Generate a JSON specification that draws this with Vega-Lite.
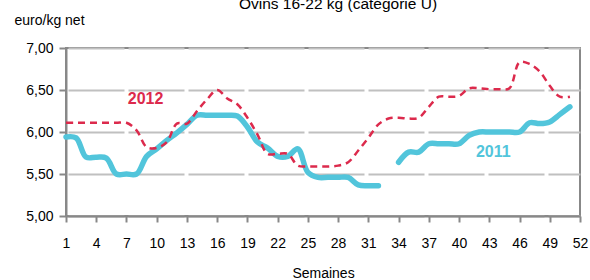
{
  "$schema": "https://vega.github.io/schema/vega-lite/v6.json",
  "width": 514,
  "height": 168,
  "autosize": {"type": "none"},
  "padding": {"left": 66, "top": 48, "right": 10, "bottom": 64},
  "background": "white",
  "title": {"text": "Ovins 16-22 kg (catégorie U)", "frame": "group", "anchor": "middle", "dx": 15, "dy": 18, "baseline": "alphabetic", "offset": 7, "fontSize": 15.5, "fontWeight": "normal", "font": "Liberation Sans", "color": "#000"},
  "config": {
    "view": {"stroke": "#888888", "strokeWidth": 2},
    "font": "Liberation Sans",
    "axis": {"labelFont": "Liberation Sans", "titleFont": "Liberation Sans", "labelColor": "#000", "titleColor": "#000", "titleFontWeight": "normal"}
  },
  "datasets": {
    "prices": [
      {"week": 1, "year": "2011", "seg": "a", "price": 5.94},
      {"week": 2, "year": "2011", "seg": "a", "price": 5.93},
      {"week": 3, "year": "2011", "seg": "a", "price": 5.70},
      {"week": 4, "year": "2011", "seg": "a", "price": 5.70},
      {"week": 5, "year": "2011", "seg": "a", "price": 5.69},
      {"week": 6, "year": "2011", "seg": "a", "price": 5.50},
      {"week": 7, "year": "2011", "seg": "a", "price": 5.50},
      {"week": 8, "year": "2011", "seg": "a", "price": 5.50},
      {"week": 9, "year": "2011", "seg": "a", "price": 5.71},
      {"week": 10, "year": "2011", "seg": "a", "price": 5.80},
      {"week": 11, "year": "2011", "seg": "a", "price": 5.90},
      {"week": 12, "year": "2011", "seg": "a", "price": 5.99},
      {"week": 13, "year": "2011", "seg": "a", "price": 6.09},
      {"week": 14, "year": "2011", "seg": "a", "price": 6.20},
      {"week": 15, "year": "2011", "seg": "a", "price": 6.20},
      {"week": 16, "year": "2011", "seg": "a", "price": 6.20},
      {"week": 17, "year": "2011", "seg": "a", "price": 6.20},
      {"week": 18, "year": "2011", "seg": "a", "price": 6.19},
      {"week": 19, "year": "2011", "seg": "a", "price": 6.06},
      {"week": 20, "year": "2011", "seg": "a", "price": 5.88},
      {"week": 21, "year": "2011", "seg": "a", "price": 5.81},
      {"week": 22, "year": "2011", "seg": "a", "price": 5.71},
      {"week": 23, "year": "2011", "seg": "a", "price": 5.71},
      {"week": 24, "year": "2011", "seg": "a", "price": 5.80},
      {"week": 25, "year": "2011", "seg": "a", "price": 5.52},
      {"week": 26, "year": "2011", "seg": "a", "price": 5.46},
      {"week": 27, "year": "2011", "seg": "a", "price": 5.46},
      {"week": 28, "year": "2011", "seg": "a", "price": 5.46},
      {"week": 29, "year": "2011", "seg": "a", "price": 5.46},
      {"week": 30, "year": "2011", "seg": "a", "price": 5.37},
      {"week": 31, "year": "2011", "seg": "a", "price": 5.36},
      {"week": 32, "year": "2011", "seg": "a", "price": 5.36},
      {"week": 34, "year": "2011", "seg": "b", "price": 5.64},
      {"week": 35, "year": "2011", "seg": "b", "price": 5.76},
      {"week": 36, "year": "2011", "seg": "b", "price": 5.76},
      {"week": 37, "year": "2011", "seg": "b", "price": 5.86},
      {"week": 38, "year": "2011", "seg": "b", "price": 5.86},
      {"week": 39, "year": "2011", "seg": "b", "price": 5.86},
      {"week": 40, "year": "2011", "seg": "b", "price": 5.86},
      {"week": 41, "year": "2011", "seg": "b", "price": 5.96},
      {"week": 42, "year": "2011", "seg": "b", "price": 6.00},
      {"week": 43, "year": "2011", "seg": "b", "price": 6.00},
      {"week": 44, "year": "2011", "seg": "b", "price": 6.00},
      {"week": 45, "year": "2011", "seg": "b", "price": 6.00},
      {"week": 46, "year": "2011", "seg": "b", "price": 6.00},
      {"week": 47, "year": "2011", "seg": "b", "price": 6.11},
      {"week": 48, "year": "2011", "seg": "b", "price": 6.10},
      {"week": 49, "year": "2011", "seg": "b", "price": 6.12},
      {"week": 50, "year": "2011", "seg": "b", "price": 6.21},
      {"week": 51, "year": "2011", "seg": "b", "price": 6.30},
      {"week": 1, "year": "2012", "seg": "c", "price": 6.11},
      {"week": 2, "year": "2012", "seg": "c", "price": 6.11},
      {"week": 3, "year": "2012", "seg": "c", "price": 6.11},
      {"week": 4, "year": "2012", "seg": "c", "price": 6.11},
      {"week": 5, "year": "2012", "seg": "c", "price": 6.11},
      {"week": 6, "year": "2012", "seg": "c", "price": 6.11},
      {"week": 7, "year": "2012", "seg": "c", "price": 6.11},
      {"week": 8, "year": "2012", "seg": "c", "price": 6.02},
      {"week": 9, "year": "2012", "seg": "c", "price": 5.82},
      {"week": 10, "year": "2012", "seg": "c", "price": 5.81},
      {"week": 11, "year": "2012", "seg": "c", "price": 5.88},
      {"week": 12, "year": "2012", "seg": "c", "price": 6.10},
      {"week": 13, "year": "2012", "seg": "c", "price": 6.10},
      {"week": 14, "year": "2012", "seg": "c", "price": 6.25},
      {"week": 15, "year": "2012", "seg": "c", "price": 6.39},
      {"week": 16, "year": "2012", "seg": "c", "price": 6.50},
      {"week": 17, "year": "2012", "seg": "c", "price": 6.40},
      {"week": 18, "year": "2012", "seg": "c", "price": 6.33},
      {"week": 19, "year": "2012", "seg": "c", "price": 6.17},
      {"week": 20, "year": "2012", "seg": "c", "price": 5.97},
      {"week": 21, "year": "2012", "seg": "c", "price": 5.74},
      {"week": 22, "year": "2012", "seg": "c", "price": 5.74},
      {"week": 23, "year": "2012", "seg": "c", "price": 5.74},
      {"week": 24, "year": "2012", "seg": "c", "price": 5.60},
      {"week": 25, "year": "2012", "seg": "c", "price": 5.59},
      {"week": 26, "year": "2012", "seg": "c", "price": 5.59},
      {"week": 27, "year": "2012", "seg": "c", "price": 5.59},
      {"week": 28, "year": "2012", "seg": "c", "price": 5.60},
      {"week": 29, "year": "2012", "seg": "c", "price": 5.64},
      {"week": 30, "year": "2012", "seg": "c", "price": 5.78},
      {"week": 31, "year": "2012", "seg": "c", "price": 5.93},
      {"week": 32, "year": "2012", "seg": "c", "price": 6.09},
      {"week": 33, "year": "2012", "seg": "c", "price": 6.16},
      {"week": 34, "year": "2012", "seg": "c", "price": 6.17},
      {"week": 35, "year": "2012", "seg": "c", "price": 6.16},
      {"week": 36, "year": "2012", "seg": "c", "price": 6.17},
      {"week": 37, "year": "2012", "seg": "c", "price": 6.30},
      {"week": 38, "year": "2012", "seg": "c", "price": 6.42},
      {"week": 39, "year": "2012", "seg": "c", "price": 6.42},
      {"week": 40, "year": "2012", "seg": "c", "price": 6.43},
      {"week": 41, "year": "2012", "seg": "c", "price": 6.52},
      {"week": 42, "year": "2012", "seg": "c", "price": 6.52},
      {"week": 43, "year": "2012", "seg": "c", "price": 6.51},
      {"week": 44, "year": "2012", "seg": "c", "price": 6.51},
      {"week": 45, "year": "2012", "seg": "c", "price": 6.52},
      {"week": 46, "year": "2012", "seg": "c", "price": 6.83},
      {"week": 47, "year": "2012", "seg": "c", "price": 6.81},
      {"week": 48, "year": "2012", "seg": "c", "price": 6.72},
      {"week": 49, "year": "2012", "seg": "c", "price": 6.55},
      {"week": 50, "year": "2012", "seg": "c", "price": 6.42},
      {"week": 51, "year": "2012", "seg": "c", "price": 6.42}
    ],
    "labels": [
      {"week": 8.9, "price": 6.39, "year": "2012"},
      {"week": 43.4, "price": 5.76, "year": "2011"}
    ]
  },
  "encoding": {
    "x": {
      "field": "week", "type": "quantitative",
      "scale": {"domain": [1, 52], "nice": false, "zero": false},
      "axis": {
        "title": "Semaines", "titleFontSize": 14, "titlePadding": 16,
        "values": [1, 4, 7, 10, 13, 16, 19, 22, 25, 28, 31, 34, 37, 40, 43, 46, 49, 52],
        "labelFontSize": 14, "labelPadding": 14, "labelFlush": false,
        "tickSize": 6, "tickColor": "#888888", "tickWidth": 2,
        "domainColor": "#888888", "domainWidth": 2,
        "grid": false
      }
    },
    "y": {
      "field": "price", "type": "quantitative",
      "scale": {"domain": [5, 7], "nice": false, "zero": false},
      "axis": {
        "title": "euro/kg net", "titleAngle": 0, "titleAlign": "left", "titleBaseline": "middle",
        "titleX": -52, "titleY": -28, "titleFontSize": 14,
        "values": [5, 5.5, 6, 6.5, 7],
        "labelExpr": "replace(format(datum.value, '.2f'), '.', ',')",
        "labelFontSize": 14, "labelPadding": 6, "labelFlush": false,
        "tickSize": 7, "tickColor": "#888888", "tickWidth": 2,
        "domainColor": "#888888", "domainWidth": 2,
        "grid": true, "gridColor": "#c0c0c0", "gridWidth": 2,
        "gridDash": [56, 4], "gridDashOffset": 58
      }
    }
  },
  "layer": [
    {
      "data": {"name": "prices"},
      "transform": [{"filter": "datum.year === '2011'"}],
      "mark": {"type": "line", "interpolate": "catmull-rom", "color": "#52C5DB", "strokeWidth": 5.5, "strokeCap": "round"},
      "encoding": {"detail": {"field": "seg"}}
    },
    {
      "data": {"name": "prices"},
      "transform": [{"filter": "datum.year === '2012'"}],
      "mark": {"type": "line", "interpolate": "catmull-rom", "color": "#DC2A4C", "strokeWidth": 2.5, "strokeDash": [7, 5]},
      "encoding": {}
    },
    {
      "data": {"name": "labels"},
      "mark": {"type": "text", "fontSize": 16, "fontWeight": "bold", "font": "Liberation Sans"},
      "encoding": {
        "text": {"field": "year"},
        "color": {"field": "year", "type": "nominal", "scale": {"domain": ["2011", "2012"], "range": ["#52C5DB", "#DC2A4C"]}, "legend": null}
      }
    }
  ]
}
